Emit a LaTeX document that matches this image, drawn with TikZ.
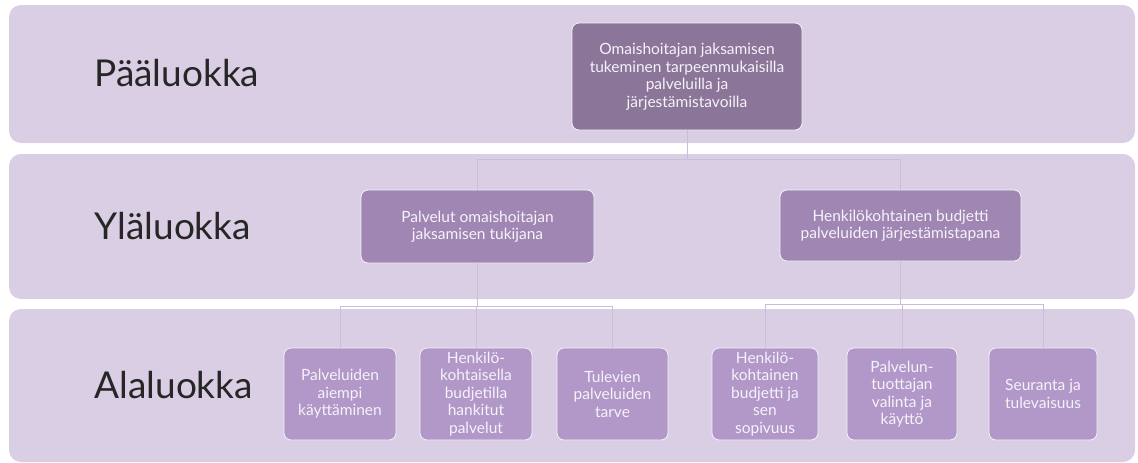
\documentclass[tikz,border=0pt]{standalone}
\usepackage{fontspec}
\setmainfont{Lato}
\definecolor{bandfill}{HTML}{D9CEE3}
\definecolor{topfill}{HTML}{8B7599}
\definecolor{midfill}{HTML}{A087B3}
\definecolor{lowfill}{HTML}{B198C8}
\definecolor{linkcol}{HTML}{CBBDDB}
\definecolor{boxtext}{HTML}{F6F2F9}
\tikzset{
  bandbox/.style={fill=bandfill,rounded corners=12pt},
  bandlabel/.style={anchor=west,font=\fontsize{37}{40}\selectfont,text=black!85},
  catbox/.style={draw=white!80!bandfill,line width=.8pt,rounded corners=7pt,
    text=boxtext,align=center,inner sep=2pt,font=\fontsize{15.5}{17.5}\selectfont},
  topbox/.style={catbox,fill=topfill},
  midbox/.style={catbox,fill=midfill},
  lowbox/.style={catbox,fill=lowfill},
  link/.style={draw=linkcol,line width=.9pt}
}

\begin{document}
\begin{tikzpicture}[x=1pt,y=-1pt]
  \useasboundingbox (0,0) rectangle (1138,463);
  \fill[bandbox] (9,5) rectangle (1135,143);
  \fill[bandbox] (9,154) rectangle (1135,299);
  \fill[bandbox] (9,309) rectangle (1135,462);
  \node[bandlabel] (paa) at (91,73) {Pääluokka};
  \node[bandlabel] (yla) at (91,226) {Yläluokka};
  \node[bandlabel] (ala) at (91,385) {Alaluokka};

  \node[topbox,minimum width=230pt,minimum height=107pt] (top) at (687,76.5)
    {Omaishoitajan jaksamisen\\tukeminen tarpeenmukaisilla\\palveluilla ja\\järjestämistavoilla};
  \node[midbox,minimum width=233pt,minimum height=73pt] (pal) at (477.5,226.5)
    {Palvelut omaishoitajan\\jaksamisen tukijana};
  \node[midbox,minimum width=241pt,minimum height=71pt] (bud) at (900.5,225.5)
    {Henkilökohtainen budjetti\\palveluiden järjestämistapana};

  \foreach \n/\x/\w/\t in {
      a/340/112/{Palveluiden\\aiempi\\käyttäminen},
      b/476/112/{Henkilö-\\kohtaisella\\budjetilla\\hankitut\\palvelut},
      c/612.5/111/{Tulevien\\palveluiden\\tarve},
      d/765/106/{Henkilö-\\kohtainen\\budjetti ja\\sen\\sopivuus},
      e/902/110/{Palvelun-\\tuottajan\\valinta ja\\käyttö},
      f/1043/108/{Seuranta ja\\tulevaisuus}}
    \node[lowbox,minimum width=\w pt,minimum height=92pt] (low\n) at (\x,394) {\t};

  \path (top.south) ++(0,29) coordinate (jtop);
  \path (pal.south) ++(0,43) coordinate (jpal);
  \path (bud.south) ++(0,43) coordinate (jbud);
  \draw[link] (top.south) -- (jtop) -| (pal.north) (jtop) -| (bud.north);
  \draw[link] (pal.south) -- (jpal) -| (lowa.north) (jpal) -| (lowc.north) (jpal) -| (lowb.north);
  \draw[link] (bud.south) -- (jbud) -| (lowd.north) (jbud) -| (lowf.north) (jbud) -| (lowe.north);
\end{tikzpicture}
\end{document}
